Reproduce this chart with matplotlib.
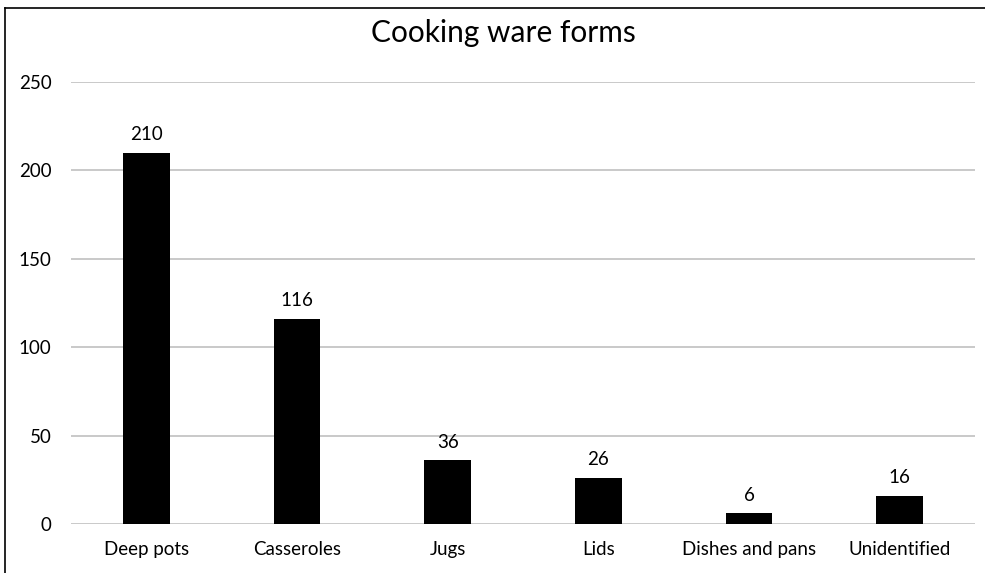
import matplotlib
matplotlib.use("Agg")
import matplotlib.pyplot as plt
from matplotlib.lines import Line2D

categories = ["Deep pots", "Casseroles", "Jugs", "Lids", "Dishes and pans", "Unidentified"]
values = [210, 116, 36, 26, 6, 16]
yticks = [0, 50, 100, 150, 200, 250]
title = "Cooking ware forms"

plt.rcParams['font.family'] = ['Lato', 'DejaVu Sans']

fig = plt.figure(figsize=(9.85, 5.73), dpi=100)
ax = fig.add_axes([0.0721, 0.0855, 0.9177, 0.7715])

x = list(range(len(categories)))
bars = ax.bar(x, values, width=0.31, color="black", zorder=3)
for xi, v in zip(x, values):
    ax.annotate(str(v), (xi, v), xytext=(0, 7), textcoords="offset points",
                ha="center", va="bottom", fontsize=13.5)

ax.set_xlim(-0.5, len(categories) - 0.5)
ax.set_ylim(0, 250)
ax.set_yticks(yticks)
ax.set_xticks(x)
ax.set_xticklabels(categories, fontsize=13.5)
ax.set_yticklabels([str(t) for t in yticks], fontsize=13.5)
ax.grid(axis="y", color="#c0c0c0", linewidth=1.2, zorder=0)
ax.tick_params(axis="both", length=0)
ax.tick_params(axis="y", pad=14)
ax.tick_params(axis="x", pad=12)
for s in ax.spines.values():
    s.set_visible(False)

fig.text(0.511, 0.942, title, ha="center", va="center", fontsize=21.5)

# outer border (top and left)
fig.add_artist(Line2D([0.005, 1.0], [0.986, 0.986], transform=fig.transFigure, color="black", linewidth=1.2))
fig.add_artist(Line2D([0.005, 0.005], [0.0, 0.986], transform=fig.transFigure, color="black", linewidth=1.2))

fig.savefig("out.png", dpi=100)
